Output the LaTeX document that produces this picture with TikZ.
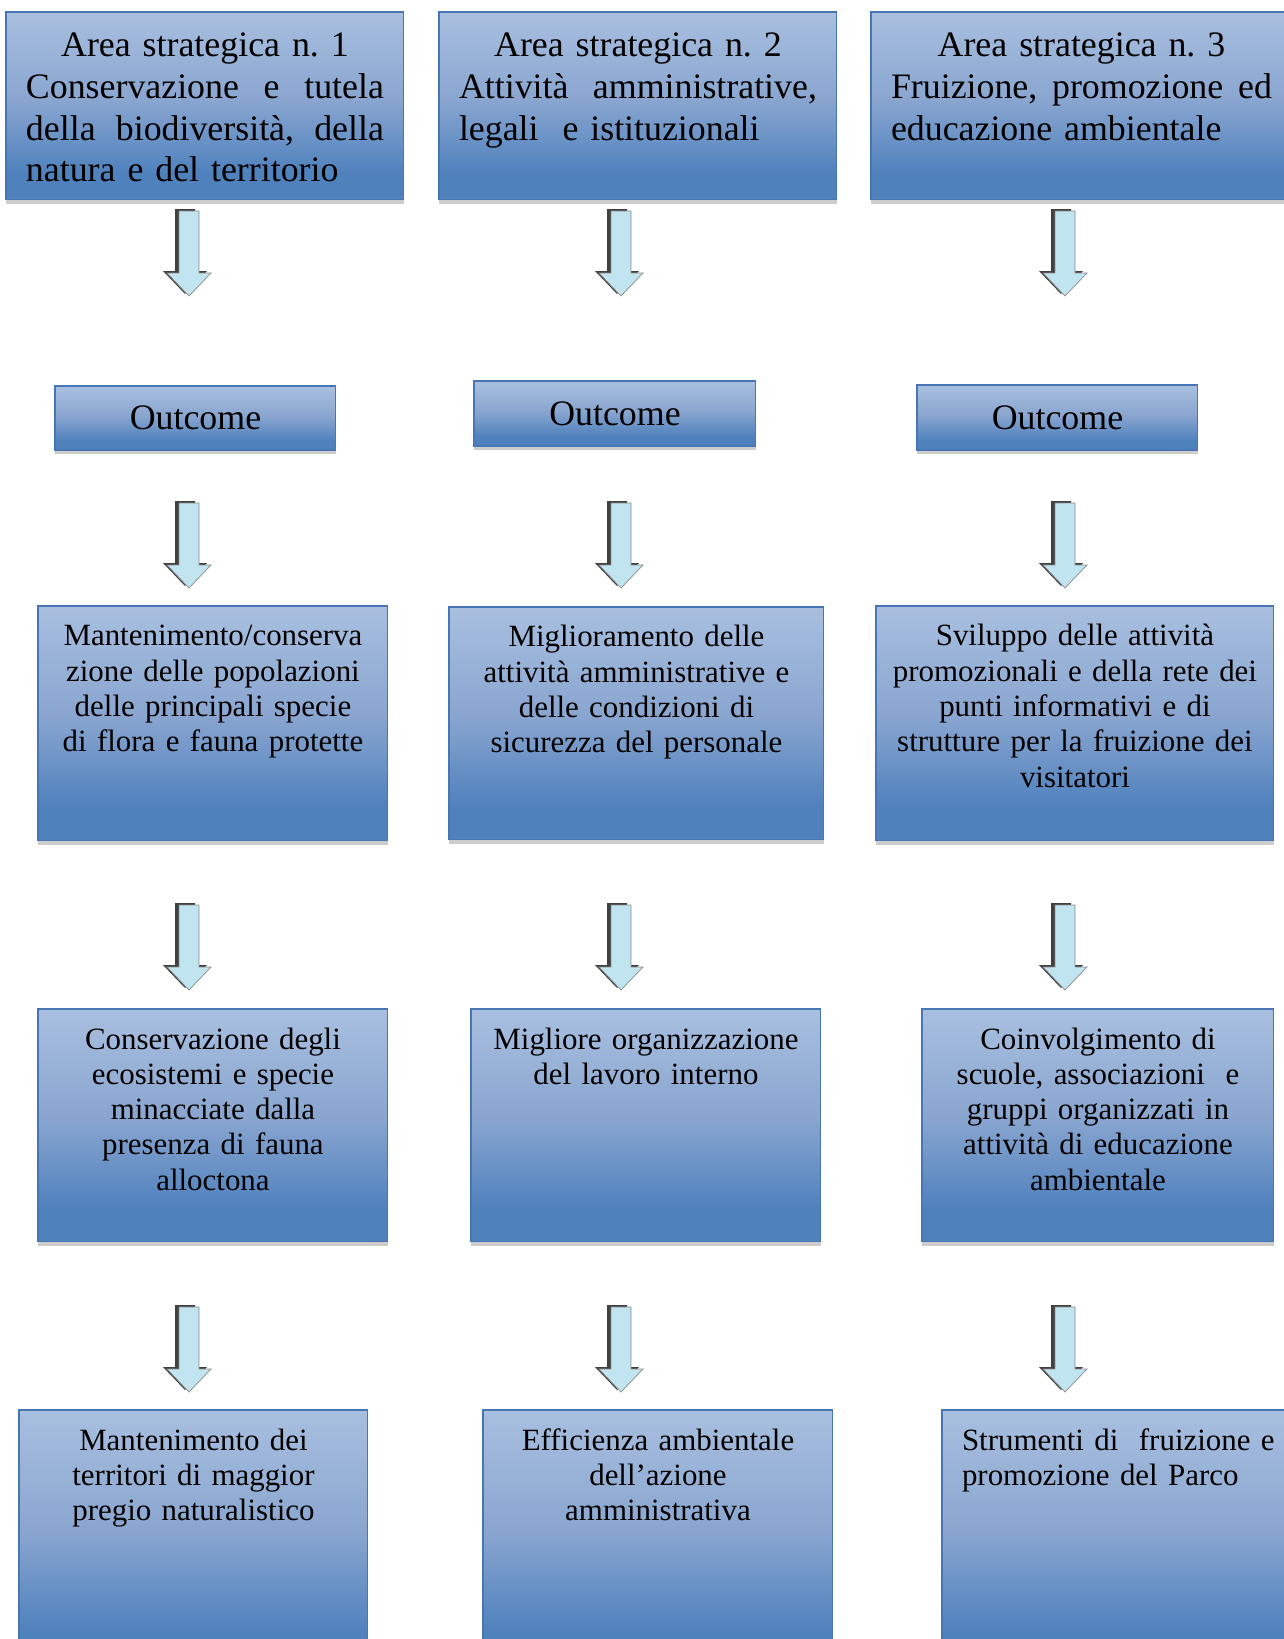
\documentclass[tikz,border=0pt]{standalone}
\usepackage{fontspec}
\setmainfont{Liberation Serif}
\usepackage{tikz}
\usetikzlibrary{shadows}

\definecolor{boxlight}{RGB}{168,191,223}
\definecolor{boxmid}{RGB}{138,166,208}
\definecolor{boxdark}{RGB}{79,129,189}
\definecolor{boxline}{RGB}{72,118,180}
\definecolor{arrowfill}{RGB}{192,228,240}
\pgfdeclareverticalshading{boxgrad}{100bp}{color(0bp)=(boxdark); color(25bp)=(boxdark); color(32bp)=(boxdark); color(52bp)=(boxmid); color(75bp)=(boxlight); color(100bp)=(boxlight)}

% block arrow pointing down, top centre at (#2,#3)
\newcommand{\downblock}[3]{%
  \coordinate (#1) at (#2,#3);
  \fill[black!75, shift={(#1)}] (-14,-2) -- (6,-2) -- (6,60) -- (18,60) -- (-4,83) -- (-26,60) -- (-14,60) -- cycle;
  \filldraw[fill=arrowfill, draw=black!45, shift={(#1)}] (-10,0) -- (10,0) -- (10,62) -- (22,62) -- (0,85) -- (-22,62) -- (-10,62) -- cycle;
}
% justified line over the full text width
\newcommand{\fullline}[1]{\makebox[\hsize][l]{#1}}

\begin{document}
\begin{tikzpicture}[x=0.02cm, y=-0.02cm,
    bluebox/.style={draw=boxline, line width=0.6pt, shading=boxgrad,
      drop shadow={shadow xshift=0pt, shadow yshift=-0.08cm, fill=black!20, opacity=1},
      inner ysep=0pt, outer sep=0pt, anchor=north west},
    areabox/.style={bluebox, font=\fontsize{20.4}{23.7}\selectfont, align=left,
      inner xsep=0.4cm, text height=0.9cm, text depth=2.86cm},
    outbox/.style={bluebox, font=\fontsize{20.4}{23.7}\selectfont, inner xsep=0pt},
    goalbox/.style={bluebox, font=\fontsize{17.6}{20.1}\selectfont, align=center,
      inner xsep=0.1cm, text height=0.8cm},
  ]
  \useasboundingbox (0,0) rectangle (1284,1639);
  \fill[white] (0,0) rectangle (1284,1639);
  \clip (0,0) rectangle (1284,1639);

  % strategic areas
  \node[areabox, text width=7.16cm] (area1) at (6,12)
    {\fullline{\hfill Area strategica n.\ 1\hfill}\\
     \fullline{Conservazione\hfill e\hfill tutela}\\
     \fullline{della\hfill biodiversità,\hfill della}\\
     natura e del territorio};
  \node[areabox, text width=7.16cm] (area2) at (439,12)
    {\fullline{\hfill Area strategica n.\ 2\hfill}\\
     \fullline{Attività\hfill amministrative,}\\
     legali~ e istituzionali};
  \node[areabox, text width=7.62cm] (area3) at (871,12)
    {\fullline{\hfill Area strategica n.\ 3\hfill}\\
     \fullline{Fruizione,\hfill promozione\hfill ed}\\
     educazione ambientale};

  % outcome
  \node[outbox, minimum width=5.62cm, minimum height=1.28cm] (out1) at (55,386) {Outcome};
  \node[outbox, minimum width=5.64cm, minimum height=1.3cm] (out2) at (474,381) {Outcome};
  \node[outbox, minimum width=5.62cm, minimum height=1.3cm] (out3) at (917,385) {Outcome};

  % goals
  \node[goalbox, text width=6.8cm, text depth=3.9cm] (goal1) at (38,606)
    {Mantenimento/conserva\\ zione delle popolazioni\\ delle principali specie\\ di flora e fauna protette};
  \node[goalbox, text width=7.3cm, text depth=3.86cm] (goal2) at (449,607)
    {Miglioramento delle\\ attività amministrative e\\ delle condizioni di\\ sicurezza del personale};
  \node[goalbox, text width=7.76cm, text depth=3.9cm] (goal3) at (876,606)
    {Sviluppo delle attività\\ promozionali e della rete dei\\ punti informativi e di\\ strutture per la fruizione dei\\ visitatori};

  \node[goalbox, text width=6.8cm, text depth=3.86cm] (aim1) at (38,1009)
    {Conservazione degli\\ ecosistemi e specie\\ minacciate dalla\\ presenza di fauna\\ alloctona};
  \node[goalbox, text width=6.8cm, text depth=3.86cm] (aim2) at (471,1009)
    {Migliore organizzazione\\ del lavoro interno};
  \node[goalbox, text width=6.84cm, text depth=3.86cm] (aim3) at (922,1009)
    {Coinvolgimento di\\ scuole, associazioni~ e\\ gruppi organizzati in\\ attività di educazione\\ ambientale};

  \node[goalbox, text width=6.78cm, text depth=4.4cm] (res1) at (19,1410)
    {Mantenimento dei\\ territori di maggior\\ pregio naturalistico};
  \node[goalbox, text width=6.8cm, text depth=4.4cm] (res2) at (483,1410)
    {Efficienza ambientale\\ dell’azione\\ amministrativa};
  \node[goalbox, align=left, inner xsep=0.4cm, text width=7.2cm, text depth=4.4cm] (res3) at (942,1410)
    {Strumenti di~ fruizione e\\ promozione del Parco};

  % arrows
  \downblock{dn11}{189}{211}
  \downblock{dn12}{621}{211}
  \downblock{dn13}{1065}{211}
  \downblock{dn21}{189}{503}
  \downblock{dn22}{621}{503}
  \downblock{dn23}{1065}{503}
  \downblock{dn31}{189}{905}
  \downblock{dn32}{621}{905}
  \downblock{dn33}{1065}{905}
  \downblock{dn41}{189}{1307}
  \downblock{dn42}{621}{1307}
  \downblock{dn43}{1065}{1307}
\end{tikzpicture}
\end{document}
